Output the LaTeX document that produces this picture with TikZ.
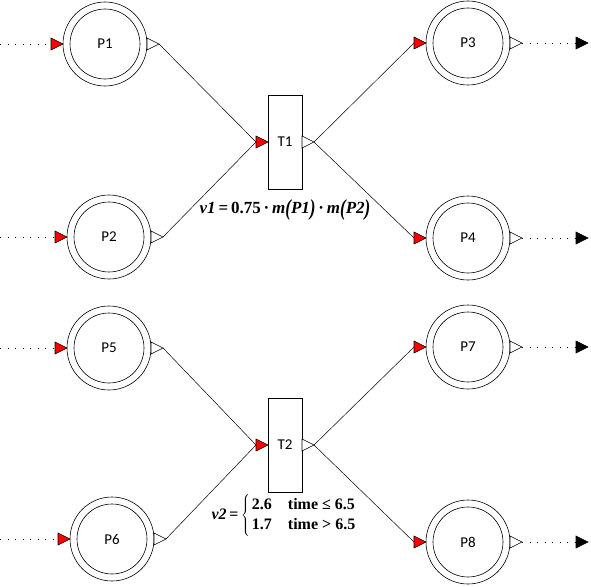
\documentclass[tikz,border=0pt]{standalone}
\usepackage{fontspec}
\setmainfont{Liberation Serif}
\newfontfamily\carlito{Carlito}
\usetikzlibrary{shapes.geometric}
\newcommand{\bigp}[1]{\raisebox{-0.12em}{\scalebox{1}[1.35]{#1}}}
\begin{document}
\begin{tikzpicture}[x=1pt,y=-1pt,
  base/.style={line width=0.6pt},
  place/.style={base, circle, draw, minimum size=84pt, inner sep=0pt, outer sep=0pt,
    path picture={\draw[line width=0.6pt] (path picture bounding box.center) circle (35pt);},
    font=\carlito\fontsize{15}{17}\selectfont},
  trans/.style={base, rectangle, draw, minimum width=34pt, minimum height=94pt, inner sep=0pt, outer sep=0pt,
    font=\carlito\fontsize{15}{17}\selectfont},
  tri/.style={base, isosceles triangle, isosceles triangle stretches, draw,
    minimum width=12pt, minimum height=12pt, inner sep=0pt, outer sep=0pt},
  intri/.style={tri, fill=red},
  outtri/.style={tri, fill=white},
  endtri/.style={tri, fill=black},
  arc/.style={line width=0.5pt},
  dotline/.style={line width=0.9pt, dash pattern=on 0.9pt off 6.6pt},
  lab/.style={font=\fontsize{17}{20}\selectfont\bfseries, inner sep=0pt},
  lab2/.style={font=\fontsize{16}{20}\selectfont\bfseries, inner sep=0pt}
]
\useasboundingbox (0,0) rectangle (591,586);

% places
\node[place] (P1) at (105,44) {P1};
\node[place] (P2) at (109,237) {P2};
\node[place] (P3) at (468,43) {P3};
\node[place] (P4) at (468,238) {P4};
\node[place] (P5) at (109,348) {P5};
\node[place] (P6) at (112,539) {P6};
\node[place] (P7) at (468,347) {P7};
\node[place] (P8) at (468,542) {P8};

% transitions
\node[trans] (T1) at (285,142) {T1};
\node[trans] (T2) at (285,445) {T2};

% input (red) triangles
\foreach \p in {P1,P2,P3,P4,P5,P6,P7,P8}
  \node[intri, anchor=apex] (i\p) at (\p.west) {};
\node[intri, anchor=apex] (iT1) at (T1.west) {};
\node[intri, anchor=apex] (iT2) at (T2.west) {};

% output (white) triangles
\foreach \p in {P1,P2,P3,P4,P5,P6,P7,P8}
  \node[outtri, anchor=lower side] (o\p) at (\p.east) {};
\node[outtri, anchor=lower side] (oT1) at (T1.east) {};
\node[outtri, anchor=lower side] (oT2) at (T2.east) {};

% black end arrowheads
\node[endtri, anchor=apex] (eP3) at (588,43) {};
\node[endtri, anchor=apex] (eP4) at (588,238) {};
\node[endtri, anchor=apex] (eP7) at (588,347) {};
\node[endtri, anchor=apex] (eP8) at (588,542) {};

% free ends of input dotted lines
\coordinate (sP1) at (0,44);
\coordinate (sP2) at (0,237);
\coordinate (sP5) at (0,348);
\coordinate (sP6) at (0,539);

\foreach \p in {P1,P2,P5,P6}
  \draw[dotline] (s\p) -- (i\p.lower side);
\foreach \p in {P3,P4,P7,P8}
  \draw[dotline] (o\p.apex) -- (e\p.lower side);

% arcs
\draw[arc] (oP1.apex) -- (iT1.lower side);
\draw[arc] (oP2.apex) -- (iT1.lower side);
\draw[arc] (oT1.apex) -- (iP3.lower side);
\draw[arc] (oT1.apex) -- (iP4.lower side);
\draw[arc] (oP5.apex) -- (iT2.lower side);
\draw[arc] (oP6.apex) -- (iT2.lower side);
\draw[arc] (oT2.apex) -- (iP7.lower side);
\draw[arc] (oT2.apex) -- (iP8.lower side);

% labels
\node[lab] (v1) at (285,210) {\itshape v1\upshape\,=\,0.75\,·\,\itshape m\bigp{(}P1\bigp{)}\upshape\,·\,\itshape m\bigp{(}P2\bigp{)}};
\node[lab2] (v2) at (284,515) {\itshape v2\upshape\,=\,$\left\{\hspace{2pt}\begin{tabular}{@{}l@{\hspace{16pt}}l@{}}2.6 & time ≤ 6.5\\1.7 & time > 6.5\end{tabular}\right.$};
\end{tikzpicture}
\end{document}
